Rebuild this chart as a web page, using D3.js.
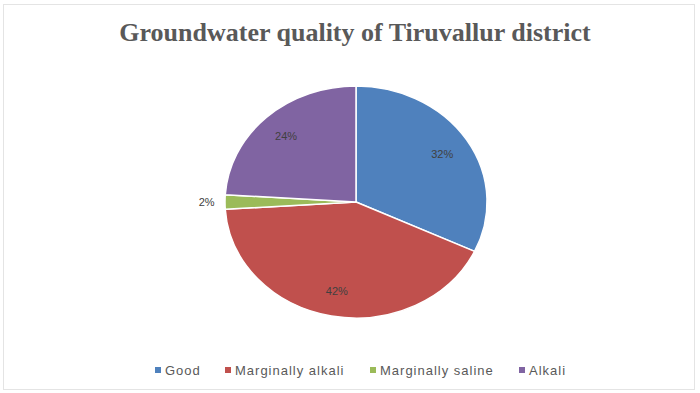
<!DOCTYPE html>
<html>
<head>
<meta charset="utf-8">
<script src="https://cdn.jsdelivr.net/npm/d3@7"></script>
<style>
	body { margin: 0; background: #fff; }
	svg { display: block; }
</style>
</head>
<body>
<script>
const w = 700;
const h = 393;

const categories = ["Good", "Marginally alkali", "Marginally saline", "Alkali"];
const values = [32, 42, 2, 24];
const colors = ["#4F81BD", "#C0504D", "#9BBB59", "#8064A2"];

const data = categories.map((c, i) => ({ name: c, value: values[i], color: colors[i] }));

const svg = d3.select("body").append("svg").attr("width", w).attr("height", h);

// * FRAME
svg.append("rect")
	.attr("x", 3.5).attr("y", 4.5)
	.attr("width", 691).attr("height", 385)
	.attr("fill", "#fff")
	.attr("stroke", "#e4e4e4");

// * TITLE
svg.append("text")
	.attr("x", 355).attr("y", 41)
	.attr("text-anchor", "middle")
	.attr("font-family", "'Liberation Serif', 'Times New Roman', serif")
	.attr("font-weight", "bold")
	.attr("font-size", 26)
	.attr("fill", "#595959")
	.text("Groundwater quality of Tiruvallur district");

// * PIE (slightly elliptical, as in the source)
const cx = 356, cy = 202, rx = 131, ry = 116;
const pie = d3.pie().sort(null).value((d) => d.value);
const arcs = pie(data);
const arc = d3.arc().innerRadius(0).outerRadius(1);

const g = svg.append("g").attr("transform", `translate(${cx},${cy})`);
g.append("g")
	.attr("transform", `scale(${rx},${ry})`)
	.selectAll("path")
	.data(arcs)
	.enter()
	.append("path")
	.attr("d", arc)
	.attr("fill", (d) => d.data.color)
	.attr("stroke", "#fff")
	.attr("stroke-width", 1.5)
	.attr("vector-effect", "non-scaling-stroke");

// * LABELS
const labelPos = (d) => {
	const a = (d.startAngle + d.endAngle) / 2;
	const r = d.data.value < 5 ? 1.14 : 0.78;
	return [Math.sin(a) * r * rx, -Math.cos(a) * r * ry];
};
g.selectAll("text.lbl")
	.data(arcs)
	.enter()
	.append("text")
	.attr("class", "lbl")
	.attr("x", (d) => labelPos(d)[0])
	.attr("y", (d) => labelPos(d)[1] + 4)
	.attr("text-anchor", "middle")
	.attr("font-family", "'Liberation Sans', Arial, sans-serif")
	.attr("font-size", 11)
	.attr("fill", "#404040")
	.text((d) => d.data.value + "%");

// * LEGEND
const legendX = [155, 225, 370, 519];
const items = svg.append("g")
	.selectAll("g")
	.data(data)
	.enter()
	.append("g")
	.attr("transform", (d, i) => `translate(${legendX[i]},370)`);
items.append("rect")
	.attr("x", 0).attr("y", -3)
	.attr("width", 6).attr("height", 6)
	.attr("fill", (d) => d.color);
items.append("text")
	.attr("x", 10).attr("y", 4.5)
	.attr("font-family", "'Liberation Sans', Arial, sans-serif")
	.attr("font-size", 13)
	.attr("letter-spacing", 1)
	.attr("fill", "#595959")
	.text((d) => d.name);
</script>
</body>
</html>
